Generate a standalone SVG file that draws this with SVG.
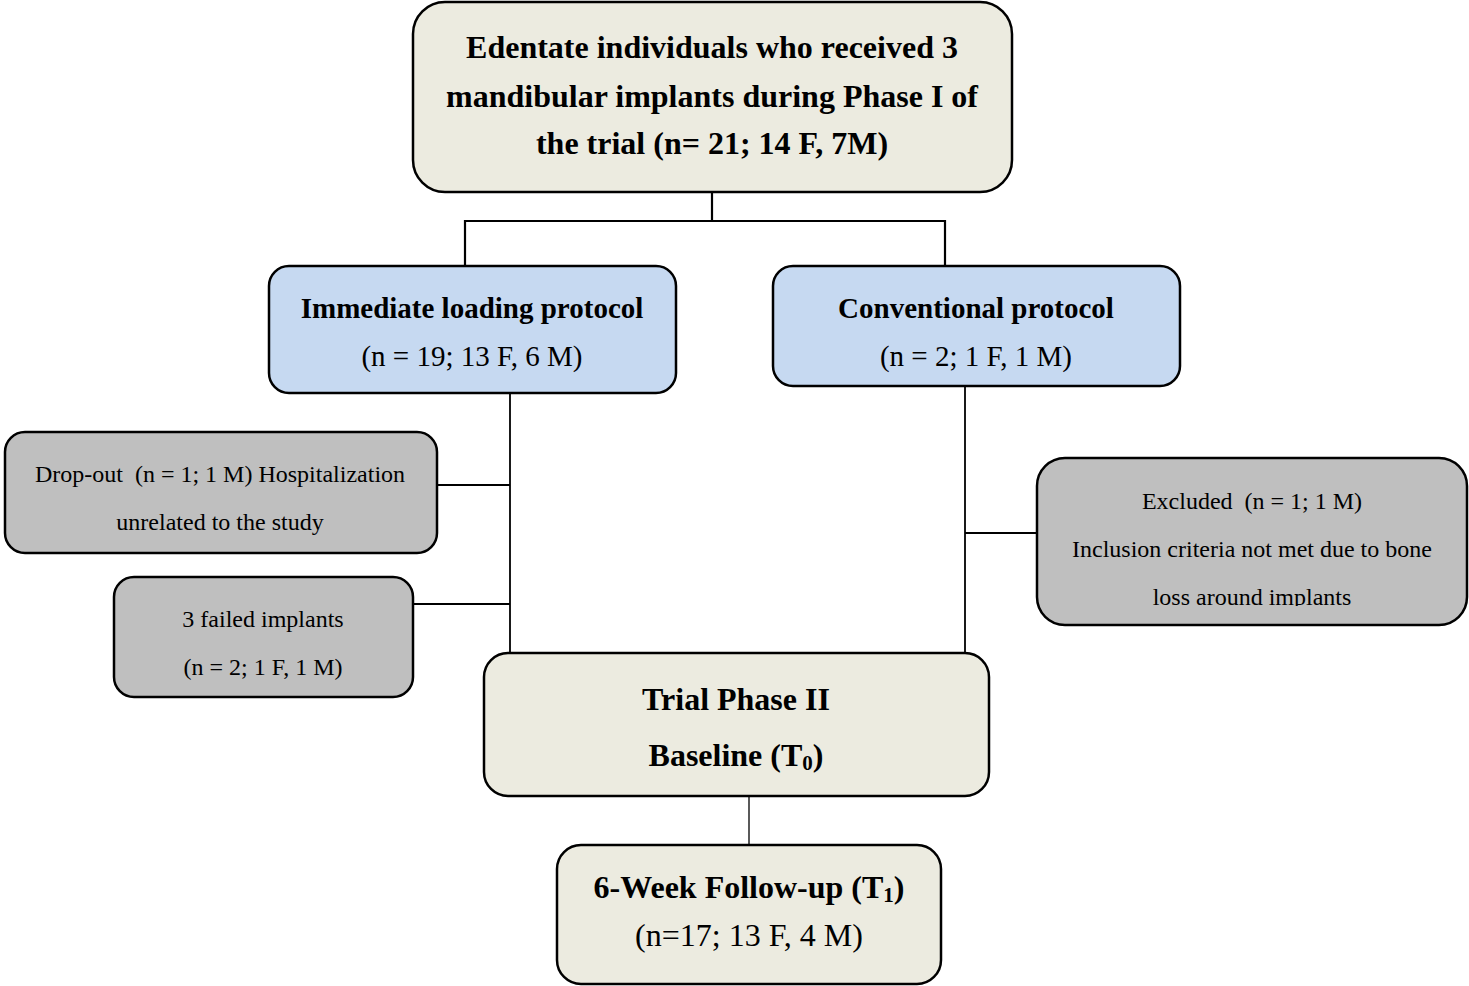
<svg xmlns="http://www.w3.org/2000/svg" width="1469" height="986" viewBox="0 0 1469 986">
<style>
.box{stroke:#000;stroke-width:2.5}
.beige{fill:#ecebe0}
.blue{fill:#c6d9f1}
.gray{fill:#bfbfbf}
.con{stroke:#000;fill:none}
text{font-family:"Liberation Serif","Times New Roman",serif;fill:#000;text-anchor:middle}
.b{font-weight:bold}
</style>
<defs>
<clipPath id="exclip"><rect x="1037" y="458" width="432" height="148"/></clipPath>
</defs>
<rect x="0" y="0" width="1469" height="986" fill="#fff"/>
<g id="connectors">
<polyline class="con" stroke-width="2.2" points="712,192 712,221"/>
<polyline class="con" stroke-width="2.2" points="465,265 465,221 945,221 945,265"/>
<line class="con" stroke-width="1.8" x1="510" y1="393" x2="510" y2="653"/>
<line class="con" stroke-width="1.8" x1="437" y1="485" x2="510" y2="485"/>
<line class="con" stroke-width="1.8" x1="413" y1="604" x2="510" y2="604"/>
<line class="con" stroke-width="1.8" x1="965" y1="386" x2="965" y2="653"/>
<line class="con" stroke-width="1.8" x1="965" y1="533" x2="1037" y2="533"/>
<line class="con" stroke-width="1.3" x1="749" y1="796" x2="749" y2="845"/>
</g>
<g id="start">
<rect class="box beige" x="413" y="2" width="599" height="190" rx="32"/>
<text class="b" font-size="32" x="712" y="58">Edentate individuals who received 3</text>
<text class="b" font-size="32" x="712" y="107">mandibular implants during Phase I of</text>
<text class="b" font-size="32" x="712" y="154">the trial (n= 21; 14 F, 7M)</text>
</g>
<g id="immediate">
<rect class="box blue" x="269" y="266" width="407" height="127" rx="20"/>
<text class="b" font-size="29" x="472" y="318">Immediate loading protocol</text>
<text font-size="29" x="472" y="366">(n = 19; 13 F, 6 M)</text>
</g>
<g id="conventional">
<rect class="box blue" x="773" y="266" width="407" height="120" rx="20"/>
<text class="b" font-size="29" x="976" y="318">Conventional protocol</text>
<text font-size="29" x="976" y="366">(n = 2; 1 F, 1 M)</text>
</g>
<g id="dropout">
<rect class="box gray" x="5" y="432" width="432" height="121" rx="20"/>
<text font-size="24" x="220" y="482">Drop-out&#160; (n = 1; 1 M) Hospitalization</text>
<text font-size="24" x="220" y="530">unrelated to the study</text>
</g>
<g id="failed">
<rect class="box gray" x="114" y="577" width="299" height="120" rx="20"/>
<text font-size="24" x="263" y="627">3 failed implants</text>
<text font-size="24" x="263" y="675">(n = 2; 1 F, 1 M)</text>
</g>
<g id="excluded">
<rect class="box gray" x="1037" y="458" width="430" height="167" rx="28"/>
<g clip-path="url(#exclip)">
<text font-size="24" x="1252" y="509">Excluded&#160; (n = 1; 1 M)</text>
<text font-size="24" x="1252" y="557">Inclusion criteria not met due to bone</text>
<text font-size="24" x="1252" y="605">loss around implants</text>
</g>
</g>
<g id="baseline">
<rect class="box beige" x="484" y="653" width="505" height="143" rx="24"/>
<text class="b" font-size="32" x="736" y="710">Trial Phase II</text>
<text class="b" font-size="32" x="736" y="766">Baseline (T<tspan font-size="21" dy="4">0</tspan><tspan dy="-4">)</tspan></text>
</g>
<g id="followup">
<rect class="box beige" x="557" y="845" width="384" height="139" rx="24"/>
<text class="b" font-size="32" x="749" y="898">6-Week Follow-up (T<tspan font-size="21" dy="4">1</tspan><tspan dy="-4">)</tspan></text>
<text font-size="32" x="749" y="946">(n=17; 13 F, 4 M)</text>
</g>
</svg>
